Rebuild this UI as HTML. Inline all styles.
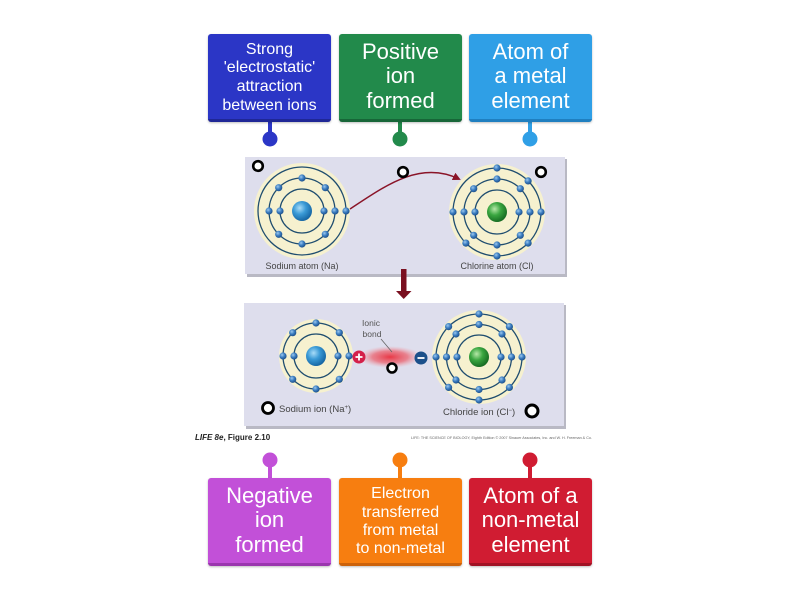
<!DOCTYPE html>
<html><head><meta charset="utf-8">
<style>
html,body{margin:0;padding:0;background:#fff;}
body{width:800px;height:600px;position:relative;overflow:hidden;font-family:"Liberation Sans",sans-serif;}
.box{position:absolute;width:123px;height:85px;border-radius:3px;color:#fff;display:flex;align-items:center;justify-content:center;text-align:center;box-shadow:0 1px 2px rgba(0,0,0,0.25);box-sizing:content-box;}
.big{font-size:22px;line-height:24.5px;}
.sm{font-size:16px;line-height:18.6px;padding-top:3px;height:82px;}
svg{position:absolute;left:0;top:0;}
</style></head><body>
<svg width="800" height="600" viewBox="0 0 800 600" xmlns="http://www.w3.org/2000/svg">
<defs>
<radialGradient id="eg" cx="0.38" cy="0.35" r="0.7"><stop offset="0" stop-color="#9cc8ee"/><stop offset="0.5" stop-color="#3a7cc0"/><stop offset="1" stop-color="#1a4a84"/></radialGradient>
<radialGradient id="nag" cx="0.38" cy="0.35" r="0.7"><stop offset="0" stop-color="#a8dcf8"/><stop offset="0.45" stop-color="#3a9ad6"/><stop offset="1" stop-color="#12609e"/></radialGradient>
<radialGradient id="clg" cx="0.38" cy="0.35" r="0.7"><stop offset="0" stop-color="#b6e8a8"/><stop offset="0.45" stop-color="#3aa640"/><stop offset="1" stop-color="#13661f"/></radialGradient>
<radialGradient id="glow" cx="0.5" cy="0.5" r="0.5"><stop offset="0" stop-color="#e8303e" stop-opacity="0.95"/><stop offset="0.55" stop-color="#ec5a66" stop-opacity="0.7"/><stop offset="1" stop-color="#f3a0a8" stop-opacity="0"/></radialGradient>
<marker id="ah" markerWidth="8" markerHeight="8" refX="6" refY="4" orient="auto" markerUnits="userSpaceOnUse"><path d="M0,0 L8,4 L0,8 Z" fill="#8a1428"/></marker>
</defs>

<g>
<rect x="268" y="120" width="4" height="18" fill="#2b36c6"/><circle cx="270" cy="139" r="7.5" fill="#2b36c6"/>
<rect x="398" y="120" width="4" height="18" fill="#228a4b"/><circle cx="400" cy="139" r="7.5" fill="#228a4b"/>
<rect x="528" y="120" width="4" height="18" fill="#2f9fe6"/><circle cx="530" cy="139" r="7.5" fill="#2f9fe6"/>
<rect x="268" y="460" width="4" height="20" fill="#c250d8"/><circle cx="270" cy="460" r="7.5" fill="#c250d8"/>
<rect x="398" y="460" width="4" height="20" fill="#f77e10"/><circle cx="400" cy="460" r="7.5" fill="#f77e10"/>
<rect x="528" y="460" width="4" height="20" fill="#d01c32"/><circle cx="530" cy="460" r="7.5" fill="#d01c32"/>
</g>

<rect x="247" y="159" width="320" height="118" fill="#b9b9c4"/>
<rect x="245" y="157" width="320" height="117" fill="#dedeed"/>
<rect x="246" y="305" width="320" height="124" fill="#b9b9c4"/>
<rect x="244" y="303" width="320" height="123" fill="#dedeed"/>

<g>
<circle cx="302" cy="211" r="48" fill="#f6f1cf"/>
<g fill="none" stroke="#1f4d6f" stroke-width="1.3">
<circle cx="302" cy="211" r="22"/><circle cx="302" cy="211" r="33"/><circle cx="302" cy="211" r="44"/>
</g>
<circle cx="302" cy="211" r="10" fill="url(#nag)"/>
<g fill="url(#eg)">
<circle cx="324" cy="211" r="3.6"/><circle cx="280" cy="211" r="3.6"/>
<circle cx="335" cy="211" r="3.6"/><circle cx="325.3" cy="187.7" r="3.6"/><circle cx="302" cy="178" r="3.6"/><circle cx="278.7" cy="187.7" r="3.6"/><circle cx="269" cy="211" r="3.6"/><circle cx="278.7" cy="234.3" r="3.6"/><circle cx="302" cy="244" r="3.6"/><circle cx="325.3" cy="234.3" r="3.6"/>
<circle cx="346" cy="211" r="3.6"/>
</g>
</g>

<g>
<circle cx="497" cy="212" r="48" fill="#f6f1cf"/>
<g fill="none" stroke="#1f4d6f" stroke-width="1.3">
<circle cx="497" cy="212" r="22"/><circle cx="497" cy="212" r="33"/><circle cx="497" cy="212" r="44"/>
</g>
<circle cx="497" cy="212" r="10" fill="url(#clg)"/>
<g fill="url(#eg)">
<circle cx="519" cy="212" r="3.6"/><circle cx="475" cy="212" r="3.6"/>
<circle cx="530" cy="212" r="3.6"/><circle cx="520.3" cy="188.7" r="3.6"/><circle cx="497" cy="179" r="3.6"/><circle cx="473.7" cy="188.7" r="3.6"/><circle cx="464" cy="212" r="3.6"/><circle cx="473.7" cy="235.3" r="3.6"/><circle cx="497" cy="245" r="3.6"/><circle cx="520.3" cy="235.3" r="3.6"/>
<circle cx="541" cy="212" r="3.6"/><circle cx="528.1" cy="180.9" r="3.6"/><circle cx="497" cy="168" r="3.6"/><circle cx="453" cy="212" r="3.6"/><circle cx="465.9" cy="243.1" r="3.6"/><circle cx="497" cy="256" r="3.6"/><circle cx="528.1" cy="243.1" r="3.6"/>
</g>
</g>

<path d="M350,209 C385,186 420,160 459,179" fill="none" stroke="#8a1428" stroke-width="1.5" marker-end="url(#ah)"/>

<text x="302" y="269" font-size="9" fill="#444" text-anchor="middle" font-family="Liberation Sans, sans-serif">Sodium atom (Na)</text>
<text x="497" y="269" font-size="9" fill="#444" text-anchor="middle" font-family="Liberation Sans, sans-serif">Chlorine atom (Cl)</text>

<g fill="#fff" stroke="#000" stroke-width="2.6">
<circle cx="258" cy="166" r="4.8"/><circle cx="403" cy="172" r="4.8"/><circle cx="541" cy="172" r="4.8"/>
</g>

<rect x="401" y="269" width="5.5" height="23" fill="#7a1020"/>
<path d="M396,291 L411.5,291 L403.7,299 Z" fill="#7a1020"/>

<ellipse cx="390" cy="357" rx="32" ry="11" fill="url(#glow)"/>

<g>
<circle cx="316" cy="356" r="37" fill="#f6f1cf"/>
<g fill="none" stroke="#1f4d6f" stroke-width="1.3">
<circle cx="316" cy="356" r="22"/><circle cx="316" cy="356" r="33"/>
</g>
<circle cx="316" cy="356" r="10" fill="url(#nag)"/>
<g fill="url(#eg)">
<circle cx="338" cy="356" r="3.6"/><circle cx="294" cy="356" r="3.6"/>
<circle cx="349" cy="356" r="3.6"/><circle cx="339.3" cy="332.7" r="3.6"/><circle cx="316" cy="323" r="3.6"/><circle cx="292.7" cy="332.7" r="3.6"/><circle cx="283" cy="356" r="3.6"/><circle cx="292.7" cy="379.3" r="3.6"/><circle cx="316" cy="389" r="3.6"/><circle cx="339.3" cy="379.3" r="3.6"/>
</g>
</g>

<g>
<circle cx="479" cy="357" r="47" fill="#f6f1cf"/>
<g fill="none" stroke="#1f4d6f" stroke-width="1.3">
<circle cx="479" cy="357" r="22"/><circle cx="479" cy="357" r="32.5"/><circle cx="479" cy="357" r="43"/>
</g>
<circle cx="479" cy="357" r="10" fill="url(#clg)"/>
<g fill="url(#eg)">
<circle cx="501" cy="357" r="3.6"/><circle cx="457" cy="357" r="3.6"/>
<circle cx="511.5" cy="357" r="3.6"/><circle cx="502" cy="334" r="3.6"/><circle cx="479" cy="324.5" r="3.6"/><circle cx="456" cy="334" r="3.6"/><circle cx="446.5" cy="357" r="3.6"/><circle cx="456" cy="380" r="3.6"/><circle cx="479" cy="389.5" r="3.6"/><circle cx="502" cy="380" r="3.6"/>
<circle cx="522" cy="357" r="3.6"/><circle cx="509.4" cy="326.6" r="3.6"/><circle cx="479" cy="314" r="3.6"/><circle cx="448.6" cy="326.6" r="3.6"/><circle cx="436" cy="357" r="3.6"/><circle cx="448.6" cy="387.4" r="3.6"/><circle cx="479" cy="400" r="3.6"/><circle cx="509.4" cy="387.4" r="3.6"/>
</g>
</g>

<circle cx="359" cy="357" r="6.5" fill="#d4204a"/>
<path d="M355.5,357 H362.5 M359,353.5 V360.5" stroke="#fff" stroke-width="1.8"/>
<circle cx="421" cy="358" r="6.5" fill="#1b4f8a"/>
<path d="M417.5,358 H424.5" stroke="#fff" stroke-width="1.8"/>

<text x="371" y="326" font-size="8.5" fill="#555" text-anchor="middle" font-family="Liberation Sans, sans-serif">Ionic</text>
<text x="372" y="337" font-size="8.5" fill="#555" text-anchor="middle" font-family="Liberation Sans, sans-serif">bond</text>
<path d="M381,339 L392,352" stroke="#666" stroke-width="0.8"/>

<g fill="#fff" stroke="#000">
<circle cx="392" cy="368" r="4.5" stroke-width="2.5"/>
<circle cx="268" cy="408" r="5.5" stroke-width="2.8"/>
<circle cx="532" cy="411" r="6" stroke-width="3"/>
</g>
<text x="279" y="412" font-size="9.5" fill="#444" font-family="Liberation Sans, sans-serif">Sodium ion (Na<tspan font-size="6" dy="-3">+</tspan><tspan dy="3">)</tspan></text>
<text x="443" y="415" font-size="9.5" fill="#444" font-family="Liberation Sans, sans-serif">Chloride ion (Cl<tspan font-size="6" dy="-3">−</tspan><tspan dy="3">)</tspan></text>

<text x="195" y="440" font-size="8" fill="#222" font-weight="bold" font-family="Liberation Sans, sans-serif"><tspan font-style="italic">LIFE 8e</tspan>, Figure 2.10</text>
<text x="411" y="439" font-size="4" fill="#666" textLength="181" lengthAdjust="spacingAndGlyphs" font-family="Liberation Sans, sans-serif">LIFE: THE SCIENCE OF BIOLOGY, Eighth Edition © 2007 Sinauer Associates, Inc. and W. H. Freeman &amp; Co.</text>
</svg>

<div class="box sm" style="left:208px;top:34px;background:#2b36c6;border-bottom:3px solid #1f2796;">Strong<br>'electrostatic'<br>attraction<br>between ions</div>
<div class="box big" style="left:339px;top:34px;background:#228a4b;border-bottom:3px solid #176638;">Positive<br>ion<br>formed</div>
<div class="box big" style="left:469px;top:34px;background:#2f9fe6;border-bottom:3px solid #1f7fc0;">Atom of<br>a metal<br>element</div>
<div class="box big" style="left:208px;top:478px;background:#c250d8;border-bottom:3px solid #9a36ae;">Negative<br>ion<br>formed</div>
<div class="box sm" style="left:339px;top:478px;background:#f77e10;border-bottom:3px solid #cc620a;line-height:18.3px;">Electron<br>transferred<br>from metal<br>to non-metal</div>
<div class="box big" style="left:469px;top:478px;background:#d01c32;border-bottom:3px solid #a11224;">Atom of a<br>non-metal<br>element</div>
</body></html>
